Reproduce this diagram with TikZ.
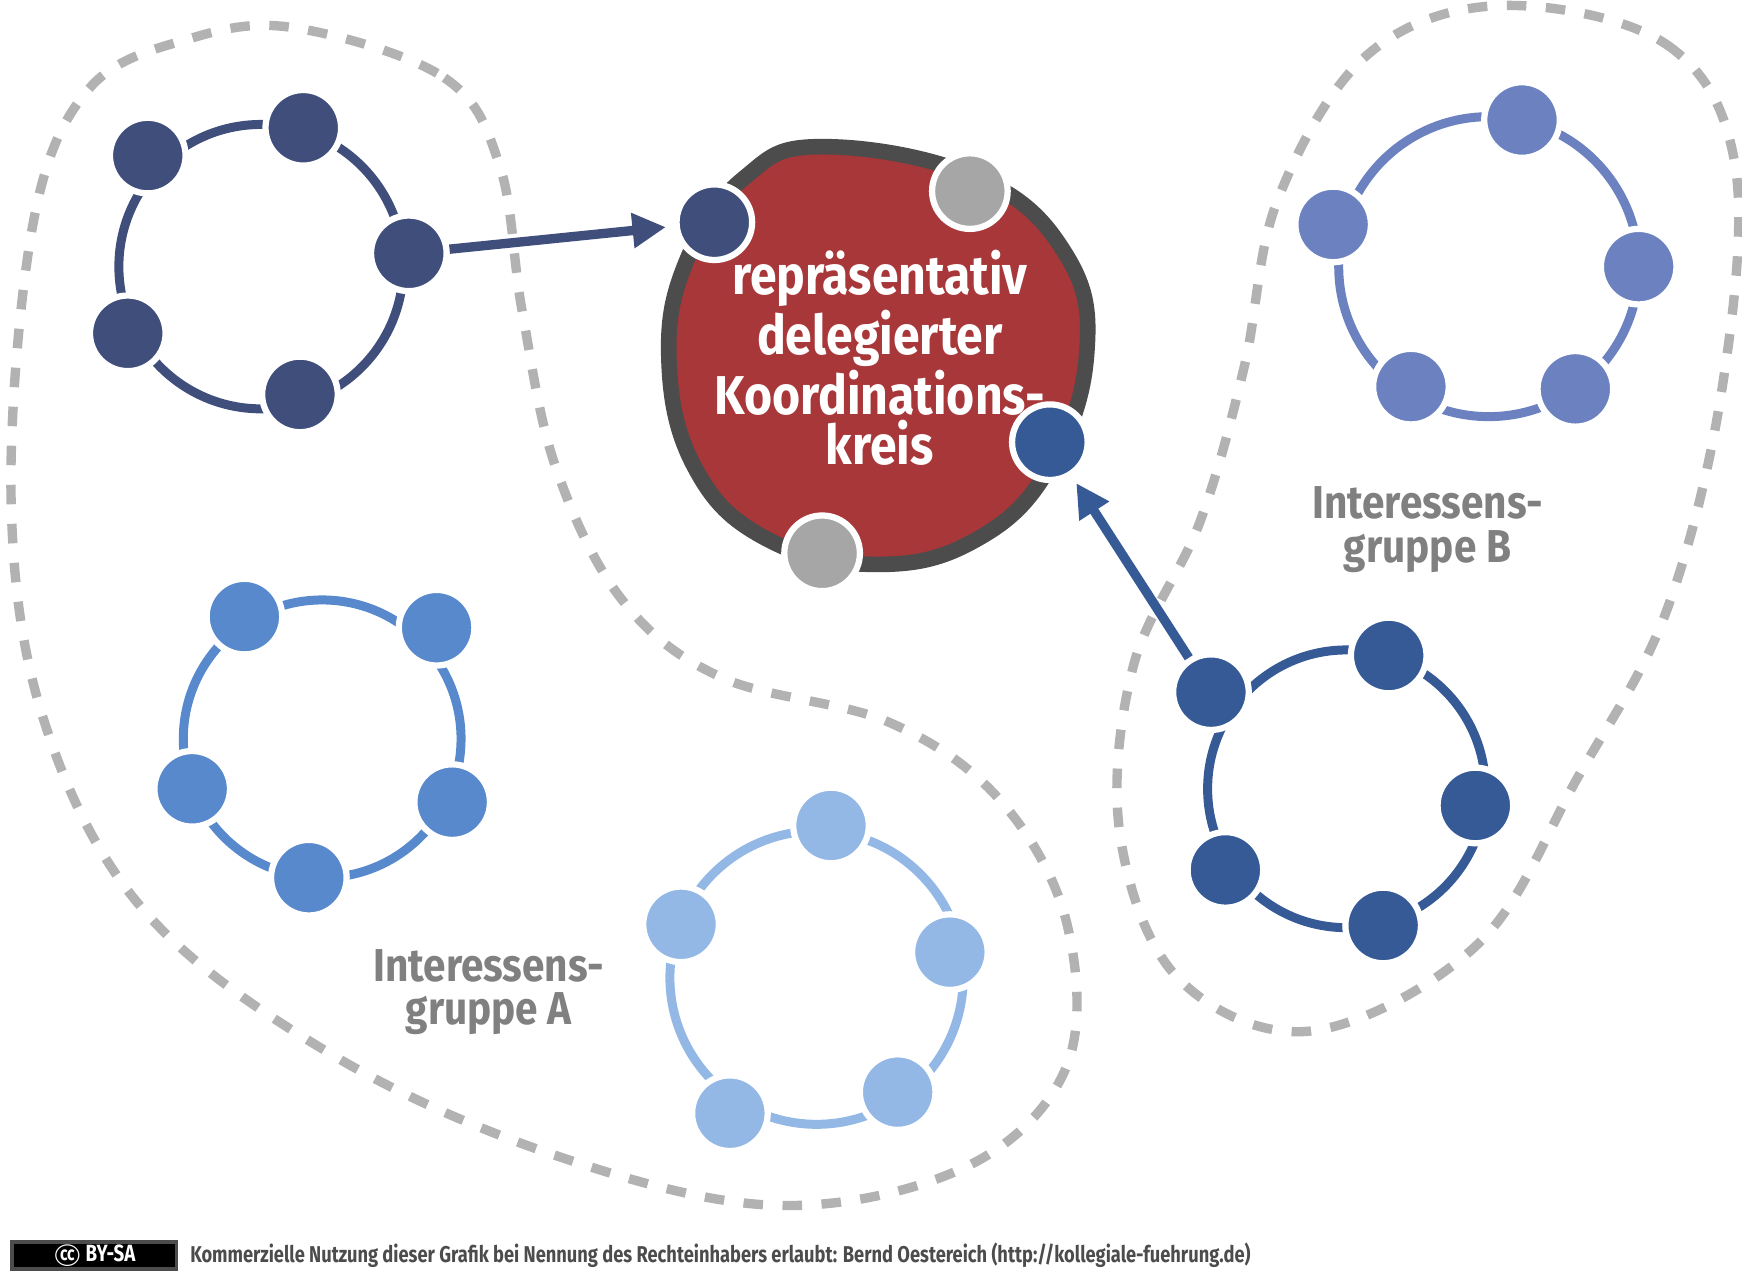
\documentclass[tikz,border=0pt]{standalone}
\usepackage{fontspec}
\setmainfont{Fira Sans}
\newfontfamily\narrowsans[FakeStretch=0.8]{Fira Sans}
\newfontfamily\halfnarrow[FakeStretch=0.88]{Fira Sans}
\usetikzlibrary{arrows.meta, positioning}
\definecolor{navy}{HTML}{404E7C}
\definecolor{midblue}{HTML}{5889CC}
\definecolor{lightblue}{HTML}{93B8E6}
\definecolor{lilac}{HTML}{6C82C0}
\definecolor{deepblue}{HTML}{355A96}
\definecolor{koreisred}{HTML}{A8373A}
\definecolor{greydot}{HTML}{A6A6A6}
\definecolor{labelgrey}{HTML}{808080}
\tikzset{
    dot/.style={
        circle,
        draw=white,
        line width=1.6pt,
        minimum size=0.68cm,
        inner sep=0pt
    },
    ring/.style={
        line width=2.3pt
    },
    arrow/.style={
        -{Triangle[length=0.3cm,width=0.3cm]},
        line width=2.4pt,
        shorten >=2pt
    },
    boundary/.style={
        draw=gray!60,
        line width=2.4pt,
        dash pattern=on 5pt off 5pt
    },
    grouplabel/.style={
        font=\halfnarrow\bfseries\fontsize{11.8}{11.2}\selectfont,
        text=labelgrey,
        align=center
    }
}
\begin{document}
\begin{tikzpicture}[x=0.01cm,y=-0.01cm]
    \useasboundingbox (0,0) rectangle (1568,1150);

    % Dashed boundaries
    \draw[boundary] plot[smooth cycle, tension=0.6] coordinates {
        (265,25) (400,70) (450,150) (470,280) (500,420) (560,540) (650,610)
        (800,650) (900,720) (960,830) (960,960) (870,1050) (700,1085)
        (500,1040) (300,950) (130,820) (40,650) (10,450) (30,200) (80,80) (170,35)};
    \draw[boundary] plot[smooth cycle, tension=0.6] coordinates {
        (1350,5) (1500,40) (1562,150) (1550,350) (1500,550) (1420,700)
        (1330,850) (1180,928) (1060,880) (1008,750) (1020,600) (1080,470)
        (1120,330) (1150,180) (1230,50)};

    % Coordination circle
    \draw[draw=black!70, line width=4pt, fill=koreisred] plot[smooth cycle, tension=0.7] coordinates {
        (740,132) (880,160) (960,230) (978,320) (945,420) (880,485) (790,508)
        (690,485) (625,420) (602,320) (620,230) (670,160)};
    \node[font=\halfnarrow\bfseries\fontsize{14}{12.8}\selectfont, text=white, align=center] (kreis) at (792,322)
        {repräsentativ\\delegierter\\Koordinations-\\kreis};
    \node[dot, fill=navy] (k1) at (643,200) {};
    \node[dot, fill=greydot] (k2) at (873,172) {};
    \node[dot, fill=deepblue] (k3) at (945,398) {};
    \node[dot, fill=greydot] (k4) at (740,498) {};

    % Rings
    \draw[ring, navy] (235,240) circle (128);
    \node[dot, fill=navy] (a1) at (133,140) {};
    \node[dot, fill=navy] (a2) at (273,115) {};
    \node[dot, fill=navy] (a3) at (368,228) {};
    \node[dot, fill=navy] (a4) at (270,355) {};
    \node[dot, fill=navy] (a5) at (115,300) {};

    \draw[ring, midblue] (290,665) circle (125);
    \node[dot, fill=midblue] (b1) at (220,555) {};
    \node[dot, fill=midblue] (b2) at (393,565) {};
    \node[dot, fill=midblue] (b3) at (407,722) {};
    \node[dot, fill=midblue] (b4) at (278,790) {};
    \node[dot, fill=midblue] (b5) at (173,710) {};

    \draw[ring, lightblue] (735,880) circle (132);
    \node[dot, fill=lightblue] (c1) at (748,743) {};
    \node[dot, fill=lightblue] (c2) at (855,857) {};
    \node[dot, fill=lightblue] (c3) at (808,983) {};
    \node[dot, fill=lightblue] (c4) at (657,1002) {};
    \node[dot, fill=lightblue] (c5) at (613,832) {};

    \draw[ring, lilac] (1340,240) circle (135);
    \node[dot, fill=lilac] (d1) at (1370,108) {};
    \node[dot, fill=lilac] (d2) at (1475,240) {};
    \node[dot, fill=lilac] (d3) at (1418,350) {};
    \node[dot, fill=lilac] (d4) at (1270,348) {};
    \node[dot, fill=lilac] (d5) at (1200,202) {};

    \draw[ring, deepblue] (1212,710) circle (125);
    \node[dot, fill=deepblue] (e1) at (1250,590) {};
    \node[dot, fill=deepblue] (e2) at (1328,725) {};
    \node[dot, fill=deepblue] (e3) at (1245,833) {};
    \node[dot, fill=deepblue] (e4) at (1103,783) {};
    \node[dot, fill=deepblue] (e5) at (1090,623) {};

    % Delegation arrows
    \draw[arrow, navy] (a3) -- (k1);
    \draw[arrow, deepblue] (e5) -- (k3);

    % Labels
    \node[grouplabel] (labA) at (440,893) {Interessens-\\gruppe A};
    \node[grouplabel] (labB) at (1285,477) {Interessens-\\gruppe B};

    % Footer
    \node[draw=black!70, line width=1pt, fill=black, text=white, minimum width=1.48cm, minimum height=0.24cm,
        inner sep=0pt, font=\narrowsans\bfseries\fontsize{6}{6}\selectfont, anchor=west] (cc) at (9,1130)
        {\textcircled{\tiny cc}\,BY-SA\hspace{0.55cm}};
    \node[right=0.1cm of cc, font=\narrowsans\bfseries\fontsize{5.85}{7}\selectfont, text=black!70, inner sep=0pt] (credit)
        {Kommerzielle Nutzung dieser Grafik bei Nennung des Rechteinhabers erlaubt: Bernd Oestereich (http://kollegiale-fuehrung.de)};
\end{tikzpicture}
\end{document}
